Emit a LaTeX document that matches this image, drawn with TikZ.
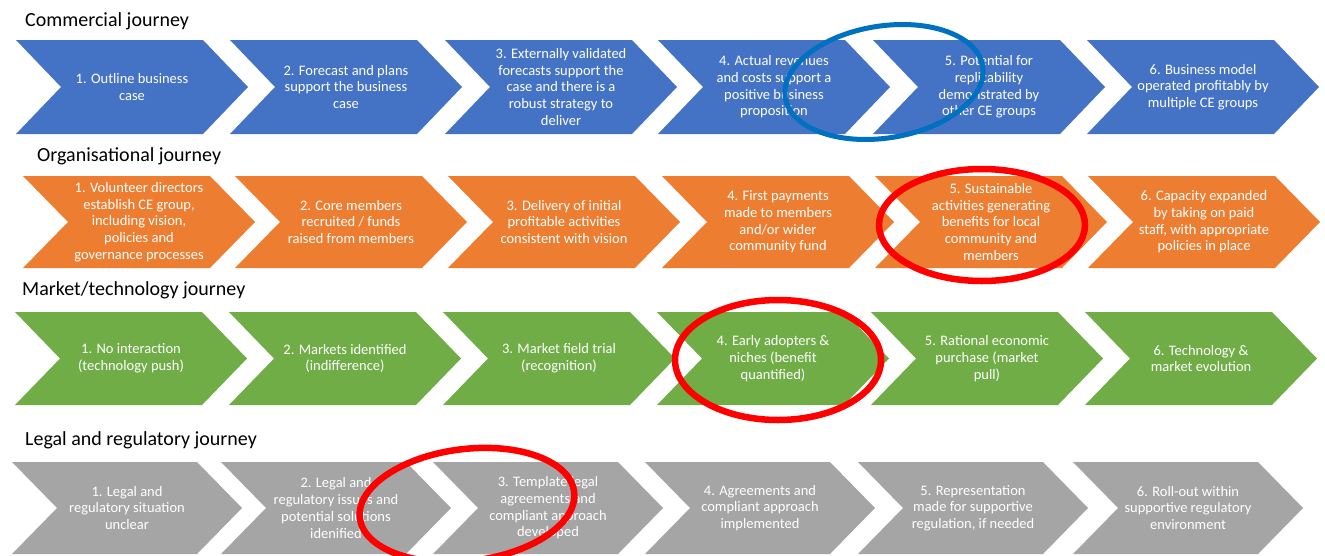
\documentclass[tikz,border=0pt]{standalone}
\usepackage{fontspec}
\setmainfont{Carlito}
\definecolor{cblue}{HTML}{4472C4}
\definecolor{corange}{HTML}{ED7D31}
\definecolor{cgreen}{HTML}{70AD47}
\definecolor{cgrey}{HTML}{A5A5A5}
\definecolor{ringblue}{HTML}{0070C0}
\definecolor{ringred}{HTML}{FF0000}
\tikzset{
  steptext/.style={text=white, align=center, inner sep=0pt,
    font=\fontsize{14.5}{16.7}\selectfont},
  rowtitle/.style={anchor=base west, inner sep=0pt,
    font=\fontsize{20}{24}\selectfont},
  bluering/.style={draw=ringblue, line width=5pt},
  redring/.style={draw=ringred, line width=6.5pt},
}
% one chevron step: name, left x, top y, fill colour, text
% width \jw, point depth \jd, half height \jh
\newcommand{\jstep}[5]{%
  \fill[#4] (#2,#3) -- ++(\jw-\jd,0) -- ++(\jd,\jh) -- ++(-\jd,\jh)
    -- ++(\jd-\jw,0) -- ++(\jd,-\jh) -- cycle;
  \node[steptext] (#1) at ({#2+\jw/2},{#3+\jh}) {#5};
}
\begin{document}
\begin{tikzpicture}[x=1pt,y=-1pt]
\useasboundingbox (0,0) rectangle (1325,555);
\def\jd{45}\def\jw{232}

% commercial journey
\node[rowtitle] (tcom) at (25,26) {Commercial journey};
\def\jh{47}
\foreach \i/\x/\lbl in {
  1/16/{1. Outline business\\case},
  2/230/{2. Forecast and plans\\support the business\\case},
  3/445/{3. Externally validated\\forecasts support the\\case and there is a\\robust strategy to\\deliver},
  4/658/{4. Actual revenues\\and costs support a\\positive business\\proposition},
  5/873/{5. Potential for\\replicability\\demonstrated by\\other CE groups},
  6/1087/{6. Business model\\operated profitably by\\multiple CE groups}}
  {\jstep{com\i}{\x}{40}{cblue}{\lbl}}

% organisational journey
\node[rowtitle] (torg) at (37,161) {Organisational journey};
\def\jh{46}
\foreach \i/\x/\lbl in {
  1/23/{1. Volunteer directors\\establish CE group,\\including vision,\\policies and\\governance processes},
  2/235/{2. Core members\\recruited / funds\\raised from members},
  3/448/{3. Delivery of initial\\profitable activities\\consistent with vision},
  4/662/{4. First payments\\made to members\\and/or wider\\community fund},
  5/875/{5. Sustainable\\activities generating\\benefits for local\\community and\\members},
  6/1088/{6. Capacity expanded\\by taking on paid\\staff, with appropriate\\policies in place}}
  {\jstep{org\i}{\x}{176}{corange}{\lbl}}

% market / technology journey
\node[rowtitle] (tmkt) at (22,295) {Market/technology journey};
\def\jh{46.5}
\foreach \i/\x/\lbl in {
  1/15/{1. No interaction\\(technology push)},
  2/229/{2. Markets identified\\(indifference)},
  3/443/{3. Market field trial\\(recognition)},
  4/657/{4. Early adopters \&\\niches (benefit\\quantified)},
  5/871/{5. Rational economic\\purchase (market\\pull)},
  6/1085/{6. Technology \&\\market evolution}}
  {\jstep{mkt\i}{\x}{312}{cgreen}{\lbl}}

% legal and regulatory journey
\node[rowtitle] (tleg) at (25,445) {Legal and regulatory journey};
\def\jh{46}\def\jw{230}
\foreach \i/\x/\lbl in {
  1/12/{1. Legal and\\regulatory situation\\unclear},
  2/221/{2. Legal and\\regulatory issues and\\potential solutions\\idenified},
  3/433/{3. Template legal\\agreements and\\compliant approach\\developed},
  4/645/{4. Agreements and\\compliant approach\\implemented},
  5/858/{5. Representation\\made for supportive\\regulation, if needed},
  6/1073/{6. Roll-out within\\supportive regulatory\\environment}}
  {\jstep{leg\i}{\x}{462}{cgrey}{\lbl}}

% highlight rings
\draw[bluering, rotate around={9:(884,82)}] (884,82) ellipse [x radius=100pt, y radius=56pt];
\draw[redring] (982,225) ellipse [x radius=103pt, y radius=56pt];
\draw[redring] (778,360) ellipse [x radius=103pt, y radius=60pt];
\draw[redring, rotate around={7:(467,505)}] (467,505) ellipse [x radius=108pt, y radius=56pt];
\end{tikzpicture}
\end{document}
